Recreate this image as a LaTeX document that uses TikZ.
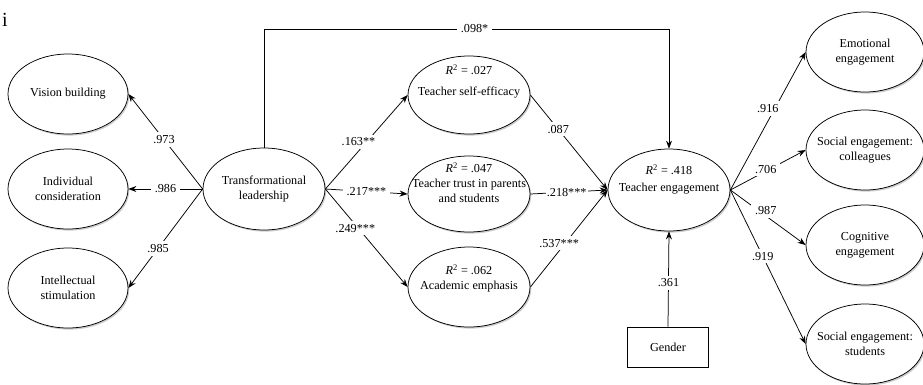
\documentclass[tikz,border=0pt]{standalone}
\usepackage{fontspec}
\setmainfont{Liberation Serif}
\usetikzlibrary{shapes.geometric,arrows.meta,shadows}
\begin{document}
\begin{tikzpicture}[x=1pt,y=-1pt,
 ell/.style={ellipse,draw,line width=0.75pt,fill=white,inner sep=0pt,
   minimum width=120pt,minimum height=80pt,
   drop shadow={shadow xshift=1.3pt,shadow yshift=-1.6pt,fill=black!40}},
 txt/.style={font=\fontsize{12.2}{15}\selectfont,align=center,inner sep=0pt},
 lbl/.style={font=\fontsize{12.2}{14}\selectfont,fill=white,inner xsep=4pt,inner ysep=3pt},
 arr/.style={line width=0.75pt,-{Stealth[length=8pt,width=6pt]}},
 boxn/.style={draw,rectangle,line width=0.75pt,minimum width=81pt,minimum height=40pt,
   font=\fontsize{12.2}{14}\selectfont}]
\useasboundingbox (0,0) rectangle (923,384);

\node[font=\fontsize{20}{20}\selectfont,anchor=base west,inner sep=0pt] (frag) at (2,26) {i};

% left ellipses
\node[ell] (vb) at (68,94) {};
\node[txt] (vbt) at (vb.center) {Vision building};
\node[ell] (ic) at (68,189) {};
\node[txt] (ict) at (ic.center) {Individual\\consideration};
\node[ell] (is) at (68,288) {};
\node[txt] (ist) at (is.center) {Intellectual\\stimulation};

\node[ell,minimum width=122pt,minimum height=82pt] (tl) at (264,189) {};
\node[txt] (tlt) at (tl.center) {Transformational\\leadership};

% middle
\node[ell,minimum width=122pt,minimum height=78pt] (tse) at (469,95) {};
\node[txt] (tser) at ([yshift=25pt]tse.center) {\textit{R}\textsuperscript{2} = .027};
\node[txt] (tset) at ([yshift=2pt]tse.center) {Teacher self-efficacy};

\node[ell,minimum width=122pt,minimum height=76pt] (ttp) at (469,194) {};
\node[txt] (ttpr) at ([yshift=26pt]ttp.center) {\textit{R}\textsuperscript{2} = .047};
\node[txt] (ttpt) at ([yshift=3pt]ttp.center) {Teacher trust in parents\\and students};

\node[ell,minimum width=122pt,minimum height=80pt] (ae) at (469,287) {};
\node[txt] (aer) at ([yshift=17pt]ae.center) {\textit{R}\textsuperscript{2} = .062};
\node[txt] (aet) at (ae.center) {Academic emphasis};

\node[ell,minimum width=122pt,minimum height=82pt] (te) at (669,190) {};
\node[txt] (ter) at ([yshift=20pt]te.center) {\textit{R}\textsuperscript{2} = .418};
\node[txt] (tet) at ([yshift=1pt]te.center) {Teacher engagement};

\node[boxn] (g) at (668,347) {Gender};

% right
\node[ell,minimum width=118pt] (ee) at (865,52) {};
\node[txt] (eet) at (ee.center) {Emotional\\engagement};
\node[ell,minimum width=118pt] (sec) at (865,150) {};
\node[txt] (sect) at (sec.center) {Social engagement:\\colleagues};
\node[ell,minimum width=118pt] (ce) at (865,245) {};
\node[txt] (cet) at (ce.center) {Cognitive\\engagement};
\node[ell,minimum width=118pt] (ses) at (865,344) {};
\node[txt] (sest) at (ses.center) {Social engagement:\\students};

% connectors
\coordinate (top) at (0,29);
\draw[arr] (tl.north) -- (tl.north |- top) -- node[lbl,pos=.52]{.098*} (te.north |- top) -- (te.north);

\draw[arr] (tl.west) -- node[lbl,pos=.52]{.973} (vb.east);
\draw[arr] (tl.west) -- node[lbl,pos=.5]{.986} (ic.east);
\draw[arr] (tl.west) -- node[lbl,pos=.6]{.985} (is.east);

\draw[arr] (tl.east) -- node[lbl,pos=.5,xshift=-8pt]{.163**} (tse.west);
\draw[arr] (tl.east) -- node[lbl,pos=.5]{.217***} (ttp.west);
\draw[arr] (tl.east) -- node[lbl,pos=.4,xshift=-3pt]{.249***} (ae.west);

\draw[arr] (tse.east) -- node[lbl,pos=.36]{.087} (te.west);
\draw[arr] (ttp.east) -- node[lbl,pos=.47,inner xsep=1pt]{.218***} (te.west);
\draw[arr] (ae.east) -- node[lbl,pos=.45,xshift=-6pt]{.537***} (te.west);
\draw[arr] (g.north) -- node[lbl,pos=.46]{.361} (te.south);

\draw[arr] (te.east) -- node[lbl,pos=.59,xshift=-7pt]{.916} (ee.west);
\draw[arr] (te.east) -- node[lbl,pos=.47,yshift=2pt]{.706} (sec.west);
\draw[arr] (te.east) -- node[lbl,pos=.47,yshift=5pt]{.987} (ce.west);
\draw[arr] (te.east) -- node[lbl,pos=.43]{.919} (ses.west);
\end{tikzpicture}
\end{document}
